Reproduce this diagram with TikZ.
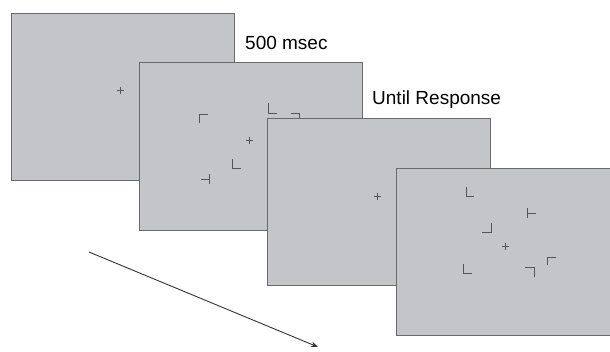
\documentclass[tikz,border=0pt]{standalone}
\usepackage{fontspec}
\setmainfont{Liberation Sans}
\usepackage{tikz}
\usetikzlibrary{arrows.meta}

\definecolor{screengray}{RGB}{196,197,200}
\definecolor{framegray}{RGB}{105,105,108}
\definecolor{markgray}{RGB}{85,85,88}

\begin{document}
\begin{tikzpicture}[x=1pt,y=-1pt]
\useasboundingbox (0,0) rectangle (610,351);
\clip (0,0) rectangle (610,351);

% display frames, drawn back to front
\begin{scope}[every node/.style={draw=framegray,fill=screengray,line width=1.3pt,
              anchor=north west,inner sep=0pt,minimum width=223pt,minimum height=167pt}]
    \node (fix) at (11,13) {};
\end{scope}
\begin{scope}[markgray,line width=0.8pt]
    \draw (116.5,90) -- (123.5,90) (120,86.5) -- (120,93.5);
\end{scope}

\begin{scope}[every node/.style={draw=framegray,fill=screengray,line width=1.3pt,
              anchor=north west,inner sep=0pt,minimum width=223pt,minimum height=168pt}]
    \node (search) at (139,62) {};
\end{scope}
\begin{scope}[markgray,line width=0.9pt]
    \draw (245.5,140) -- (252.5,140) (249,136.5) -- (249,143.5);
    \draw (208,114) -- (199,114) -- (199,123);
    \draw (268,103) -- (268,113) -- (277,113);
    \draw (291,113) -- (299,113) -- (299,122);
    \draw (232,159) -- (232,168) -- (241,168);
    \draw (209,174) -- (209,184) (201,179) -- (209,179);
\end{scope}

\begin{scope}[every node/.style={draw=framegray,fill=screengray,line width=1.3pt,
              anchor=north west,inner sep=0pt,minimum width=223pt,minimum height=167pt}]
    \node (blank) at (267,118) {};
\end{scope}
\begin{scope}[markgray,line width=0.8pt]
    \draw (373.5,196) -- (380.5,196) (377,192.5) -- (377,199.5);
\end{scope}

\begin{scope}[every node/.style={draw=framegray,fill=screengray,line width=1.3pt,
              anchor=north west,inner sep=0pt,minimum width=223pt,minimum height=167pt}]
    \node (test) at (396,168) {};
\end{scope}
\begin{scope}[markgray,line width=0.9pt]
    \draw (501.5,246) -- (508.5,246) (505,242.5) -- (505,249.5);
    \draw (466,187) -- (466,196) -- (474,196);
    \draw (527,208) -- (527,218) (527,213) -- (536,213);
    \draw (491,223) -- (491,232) -- (482,232);
    \draw (556,257) -- (547,257) -- (547,265);
    \draw (463,264) -- (463,273) -- (472,273);
    \draw (525,267) -- (534,267) -- (534,277);
\end{scope}

% durations
\begin{scope}[every node/.style={anchor=base west,inner sep=0pt,font=\fontsize{19}{22}\selectfont}]
    \node (dur1) at (245,49) {500 msec};
    \node (dur2) at (372,104) {Until Response};
\end{scope}

% time axis
\coordinate (t0) at (89,252);
\coordinate (t1) at (318,347);
\draw [-{Stealth[length=7pt,width=5.5pt]},line width=0.9pt,black!80] (t0) -- (t1);
\end{tikzpicture}
\end{document}
